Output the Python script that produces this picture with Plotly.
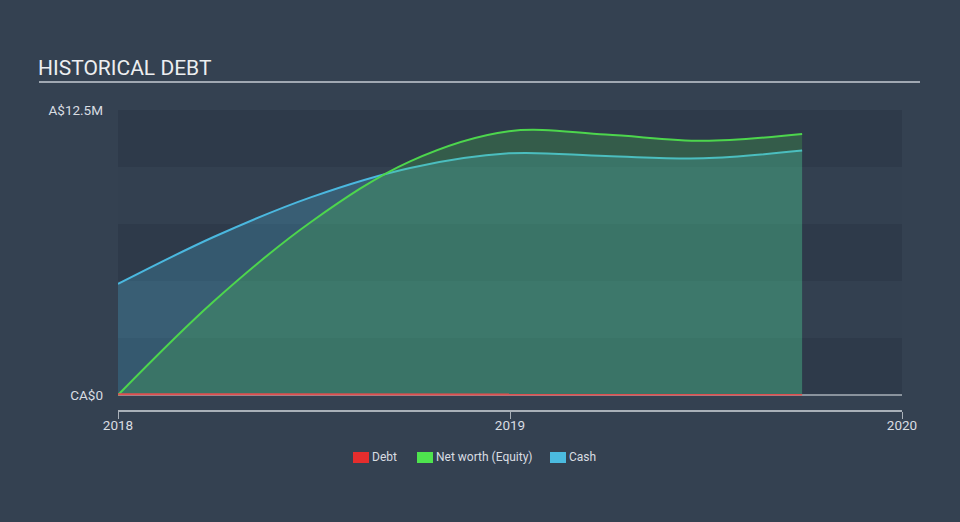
import plotly.graph_objects as go

dates = ["2018-01-01", "2018-03-31", "2018-06-30", "2018-09-30", "2018-12-31",
         "2019-03-31", "2019-06-30", "2019-09-30"]
debt = [0.03, 0.03, 0.03, 0.03, 0.02, 0.02, 0.02, 0.02]
equity = [0.0, 4.1, 7.6, 10.25, 11.57, 11.42, 11.15, 11.45]
cash = [4.87, 6.93, 8.68, 9.96, 10.6, 10.48, 10.38, 10.72]

y_ticks = [0, 12.5]
y_ticktext = ["CA$0", "A$12.5M"]
x_ticks = ["2018-01-01", "2019-01-01", "2020-01-01"]
x_ticktext = ["2018", "2019", "2020"]

legend_names = ["Debt", "Net worth (Equity)", "Cash"]
legend_colors = ["#e52d2d", "#4ee44e", "#4bbbe0"]
legend_square_px = [353, 417, 550]

BG = "#344151"
DARK = "#2e3a4a"
LIGHT = "#334050"
TXT = "#d9dde2"

L, T, W, H = 118, 110, 784, 300


def px(xp):
    return (xp - L) / W


def py(yp):
    return (T + H - yp) / H


fig = go.Figure()

fig.add_trace(go.Scatter(x=dates, y=cash, mode="lines", line=dict(color="#4bb8df", width=2, shape="spline", smoothing=1.0),
                         fill="tozeroy", fillcolor="rgba(75,184,223,0.25)", showlegend=False, hoverinfo="skip"))
fig.add_trace(go.Scatter(x=dates, y=equity, mode="lines", line=dict(color="#4dd64d", width=2, shape="spline", smoothing=1.0),
                         fill="tozeroy", fillcolor="rgba(77,214,77,0.22)", showlegend=False, hoverinfo="skip"))
fig.add_trace(go.Scatter(x=dates, y=debt, mode="lines", line=dict(color="#e05050", width=2),
                         fill="tozeroy", fillcolor="rgba(224,80,80,0.2)", showlegend=False, hoverinfo="skip"))

shapes = []
for i in range(5):
    shapes.append(dict(type="rect", xref="paper", yref="y", x0=0, x1=1, y0=i * 2.5, y1=(i + 1) * 2.5,
                       fillcolor=DARK if i % 2 == 0 else LIGHT, line=dict(width=0), layer="below"))
shapes.append(dict(type="line", xref="paper", yref="y", x0=0, x1=1, y0=0, y1=0,
                   line=dict(color="#a9b0b8", width=1.5), layer="below"))
# title underline
shapes.append(dict(type="line", xref="paper", yref="paper", x0=px(39), x1=px(920),
                   y0=py(82), y1=py(82), line=dict(color="#a0a8b2", width=2)))

annotations = [dict(text="HISTORICAL DEBT", xref="paper", yref="paper", x=px(36),
                    y=py(68), xanchor="left", yanchor="middle", showarrow=False,
                    font=dict(size=21, color="#eceef0", family="Roboto, sans-serif"))]

# manual legend
for name, col, sx in zip(legend_names, legend_colors, legend_square_px):
    shapes.append(dict(type="rect", xref="paper", yref="paper", x0=px(sx), x1=px(sx + 16),
                       y0=py(463), y1=py(452), fillcolor=col, line=dict(width=0)))
    annotations.append(dict(text=name, xref="paper", yref="paper", x=px(sx + 17), y=py(457.5),
                            xanchor="left", yanchor="middle", showarrow=False,
                            font=dict(size=12, color=TXT, family="Roboto, sans-serif")))

fig.update_layout(
    width=960, height=522,
    margin=dict(l=L, r=960 - L - W, t=T, b=522 - T - H),
    paper_bgcolor=BG, plot_bgcolor=BG,
    font=dict(family="Roboto, sans-serif", color=TXT, size=12),
    shapes=shapes,
    annotations=annotations,
    showlegend=False,
    xaxis=dict(type="date", range=["2018-01-01", "2020-01-01"], tickvals=x_ticks, ticktext=x_ticktext,
               showgrid=False, zeroline=False, showline=True, linecolor="#a9b0b8", linewidth=1.5,
               ticks="outside", ticklen=7, tickcolor="#a9b0b8", ticklabelstandoff=-5,
               tickfont=dict(size=13.5, color=TXT)),
    yaxis=dict(range=[-0.658, 12.5], tickvals=y_ticks, ticktext=y_ticktext, showgrid=False,
               zeroline=False, showline=False, ticks="", ticklabelstandoff=14,
               tickfont=dict(size=13.5, color=TXT)),
)

fig.write_html("out.html")
